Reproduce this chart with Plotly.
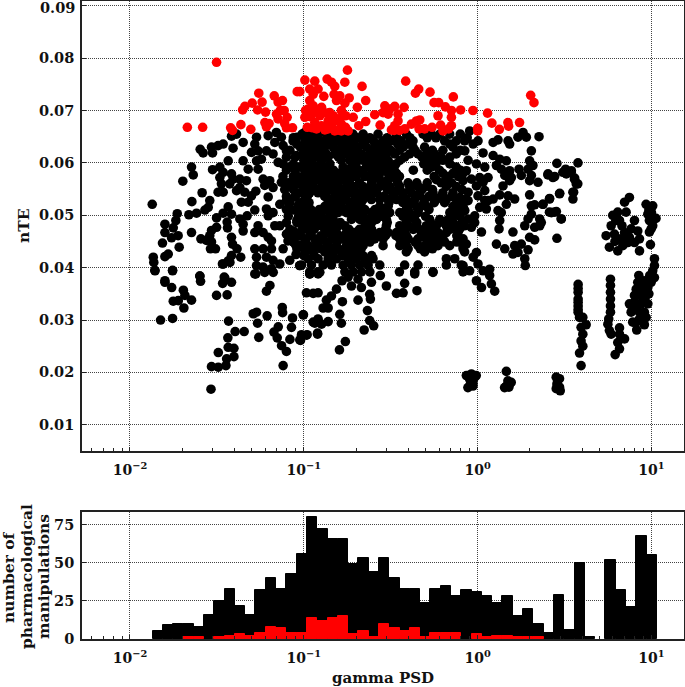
import plotly.graph_objects as go
from plotly.subplots import make_subplots

# ---------- histogram (counts per log-spaced bin) ----------
hist_first_log = -1.87
hist_log_width = 0.0592
hist_black = [5,9,10,10,8,16,25,33,22,16,32,40,33,43,56,80,72,66,66,
              49,53,44,53,40,33,33,24,33,35,28,32,31,28,24,28,15,20,10,4,29,6,50,1,0,52,32,21,68,55]
hist_red = [0,0,0,1,1,0,1,2,3,2,4,8,7,4,4,14,12,14,15,
            3,5,1,10,7,5,7,1,4,4,4,0,3,1,2,2,1,1,1,0,0,0,0,0,0,0,0,0,0,0]

# ---------- scatter: pairs of (log10 gamma PSD, nTE) ----------
red_left = [(-1.502,.0792),(-1.67,.0668),(-1.582,.0668),(-1.421,.0667),(-1.41,.0662),(-1.362,.0673),(-1.305,.0664),
 (-1.352,.0701),(-1.339,.0708),(-1.297,.0714),(-1.259,.0733),(-1.24,.0716),(-1.266,.0701),(-1.22,.0697),(-1.224,.0677),
 (-1.215,.0669),(-1.17,.0728),(-1.148,.0716),(-1.123,.0719),(-1.113,.0700),(-1.157,.0693),(-1.148,.0684),(-1.096,.0687),
 (-1.1,.0667),(-1.065,.0667),(-1.038,.0736),(-1.135,.0700),(-1.2,.0675),(-1.11,.0675)]
red_core = [(-.749,.0777),(-.994,.0758),(-.937,.0756),(-.866,.0760),(-.841,.0754),(-.822,.0746),(-.764,.0754),(-.665,.0746),
 (-1.023,.0736),(-.966,.0741),(-.918,.0741),(-.946,.0731),(-.885,.0727),(-.826,.0731),(-.793,.0728),(-.812,.0719),
 (-.739,.0724),(-.764,.0714),(-.644,.0719),(-.692,.0706),(-.966,.0719),(-.946,.0709),(-.975,.0703),(-.898,.0706),
 (-.851,.0696),(-.784,.0700),(-.994,.0687),(-.946,.0696),(-.908,.0690),(-.937,.0677),(-.898,.0671),(-.831,.0690),
 (-.803,.0684),(-.774,.0690),(-.86,.0680),(-.841,.0671),(-.784,.0674),(-.927,.0665),(-.879,.0663),(-.822,.0661),
 (-.784,.0661),(-.745,.0661),(-.716,.0687),(-.96,.0688),(-.99,.0700),(-.95,.0667),(-.82,.0680),(-.76,.0668),(-.91,.0700),
 (-.98,.0668),(-.87,.0695),(-.76,.0690),(-.8,.0663),(-.86,.0665)]
red_right = [(-.414,.0756),(-.339,.0741),(-.358,.0733),(-.274,.0735),(-.14,.0726),(.305,.0729),(.324,.0715),
 (-.592,.0692),(-.644,.0679),(-.684,.0671),(-.561,.0672),(-.534,.0709),(-.544,.0696),(-.515,.0693),(-.477,.0708),
 (-.423,.0706),(-.458,.0693),(-.458,.0680),(-.477,.0671),(-.496,.0663),(-.419,.0665),(-.381,.0674),(-.352,.0680),
 (-.333,.0682),(-.337,.0665),(-.305,.0665),(-.262,.0668),(-.251,.0715),(-.224,.0715),(-.186,.0707),(-.151,.0700),
 (-.098,.0701),(-.228,.0690),(-.151,.0687),(-.213,.0672),(-.151,.0671),(-.199,.0661),(-.167,.0665),(-.027,.0700),
 (.057,.0695),(.082,.0676),(0.0,.0666),(0.0,.0661),(.125,.0664),(.174,.0677),(.178,.0670),(.241,.0677),(-.505,.0703),
 (-.48,.0662),(-.45,.0662)]

# dense core: (nTE, [log10 gamma PSD, ...]) read row by row
black_core_rows = [
 (.0655,[-1.01,-.965,-.918,-.87,-.822,-.774,-.717,-.659,-.573,-.467,-.41,-.314,-.266,-.218,-.161,-.10]),
 (.0642,[-.994,-.946,-.898,-.86,-.812,-.764,-.716,-.65,-.60,-.544,-.496,-.44,-.372,-.19,-.123,-.075]),
 (.0630,[-1.02,-.975,-.927,-.879,-.831,-.783,-.736,-.688,-.64,-.592,-.544,-.429,-.372,-.305,-.142]),
 (.0617,[-.966,-.918,-.87,-.822,-.764,-.716,-.668,-.621,-.573,-.525,-.477,-.391,-.343,-.295,-.247,-.123]),
 (.0605,[-1.0,-.956,-.898,-.784,-.736,-.659,-.611,-.563,-.515,-.448,-.285,-.238,-.2]),
 (.0592,[-1.02,-.975,-.927,-.879,-.774,-.726,-.64,-.592,-.544,-.496,-.266,-.123]),
 (.0580,[-.994,-.946,-.898,-.85,-.803,-.755,-.707,-.659,-.611,-.563,-.515,-.467,-.2,-.142,-.084]),
 (.0568,[-1.02,-.975,-.927,-.879,-.831,-.783,-.736,-.611,-.563,-.515,-.467,-.238,-.18]),
 (.0555,[-.994,-.946,-.898,-.85,-.803,-.755,-.707,-.659,-.611,-.563,-.506,-.448,-.391,-.343,-.295,-.18,-.123]),
 (.0543,[-1.02,-.966,-.918,-.87,-.822,-.774,-.726,-.678,-.63,-.582,-.477,-.429,-.381,-.333,-.257,-.2,-.142]),
 (.0530,[-.994,-.85,-.803,-.755,-.707,-.659,-.611,-.563,-.515,-.467,-.41,-.362,-.305,-.238,-.18,-.123,-.075]),
 (.0517,[-1.02,-.975,-.879,-.831,-.783,-.736,-.688,-.563,-.515,-.4,-.353,-.295,-.142,-.084]),
 (.0505,[-.994,-.946,-.898,-.85,-.803,-.755,-.707,-.659,-.611,-.563,-.506,-.448,-.391,-.343,-.16,-.10]),
 (.0492,[-1.02,-.975,-.927,-.879,-.831,-.726,-.678,-.63,-.582,-.525,-.41,-.362,-.276,-.218,-.17]),
 (.0480,[-.994,-.946,-.898,-.85,-.803,-.764,-.64,-.525,-.448,-.4,-.353,-.295,-.238,-.18,-.123,-.075]),
 (.0467,[-1.02,-.966,-.86,-.812,-.755,-.707,-.659,-.611,-.563,-.515,-.467,-.42,-.324,-.276,-.228,-.18,-.113]),
 (.0455,[-.994,-.937,-.889,-.831,-.783,-.736,-.688,-.64,-.592,-.544,-.448,-.4,-.343,-.295,-.247,-.2,-.084]),
 (.0442,[-1.02,-.975,-.918,-.86,-.812,-.755,-.707,-.659,-.544,-.448,-.41,-.343,-.305,-.228,-.161,-.084]),
 (.0430,[-.994,-.946,-.879,-.831,-.783,-.736,-.688,-.41,-.305,-.075]),
 (.0417,[-.975,-.918,-.86,-.812,-.745,-.697,-.65,-.602,-.18,-.132]),
 (.0405,[-1.013,-.956,-.889,-.841,-.774,-.726,-.678,-.63,-.563,-.42,-.343,-.18,-.094]),
 (.0392,[-.966,-.918,-.764,-.716,-.668,-.362,-.257,-.084]),
]
black_core_between_rows = [
 (.0648,[-1.06,-.98,-.93,-.84,-.79,-.74,-.69,-.62,-.52,-.47,-.39,-.29,-.24,-.06]),
 (.0636,[-1.04,-.95,-.9,-.85,-.76,-.71,-.66,-.57,-.52,-.46,-.4,-.16]),
 (.0624,[-1.08,-1.0,-.94,-.89,-.8,-.75,-.7,-.61,-.56,-.5,-.45,-.36,-.26,-.2,-.1]),
 (.0611,[-1.1,-1.05,-.99,-.93,-.86,-.8,-.7,-.64,-.58,-.53,-.42,-.32,-.27,-.21,-.16]),
 (.0598,[-1.12,-1.06,-1.0,-.95,-.9,-.85,-.7,-.62,-.57,-.52,-.47,-.31,-.24,-.16]),
 (.0586,[-1.1,-1.05,-.97,-.9,-.83,-.75,-.68,-.6,-.53,-.48,-.37,-.29,-.22,-.1]),
 (.0574,[-1.12,-1.06,-.99,-.92,-.85,-.78,-.7,-.65,-.57,-.5,-.45,-.25,-.17,-.11]),
 (.0562,[-1.09,-1.05,-.96,-.89,-.82,-.75,-.68,-.61,-.54,-.46,-.4,-.35,-.29,-.21,-.15]),
 (.0549,[-1.11,-1.06,-1.0,-.93,-.86,-.79,-.72,-.65,-.58,-.52,-.46,-.39,-.32,-.26,-.09]),
 (.0536,[-1.1,-1.05,-.98,-.88,-.82,-.76,-.69,-.62,-.54,-.49,-.43,-.35,-.28,-.21,-.15]),
 (.0524,[-1.08,-1.02,-.97,-.86,-.8,-.73,-.67,-.51,-.43,-.37,-.31,-.25,-.19,-.1]),
 (.0511,[-1.1,-1.04,-.96,-.91,-.84,-.78,-.71,-.65,-.59,-.54,-.41,-.34,-.28,-.13,-.08]),
 (.0498,[-1.09,-1.03,-.97,-.9,-.84,-.72,-.66,-.6,-.55,-.43,-.37,-.3,-.14]),
 (.0486,[-1.1,-1.04,-.96,-.91,-.85,-.79,-.65,-.61,-.52,-.41,-.35,-.27,-.22,-.14,-.09]),
 (.0473,[-1.08,-1.01,-.94,-.88,-.82,-.74,-.68,-.61,-.53,-.42,-.37,-.31,-.25,-.16]),
 (.0461,[-1.07,-1.02,-.96,-.9,-.84,-.77,-.71,-.65,-.59,-.53,-.47,-.41,-.3,-.23,-.12]),
 (.0449,[-1.06,-.99,-.93,-.87,-.81,-.75,-.68,-.62,-.43,-.36,-.27,-.19,-.12]),
 (.0436,[-1.04,-.96,-.9,-.85,-.8,-.73,-.67,-.4,-.33,-.26]),
 (.0423,[-1.0,-.94,-.84,-.78,-.72,-.66,-.61]),
]

black_left = [(-1.872,.0521),(-1.696,.0565),(-1.646,.0592),(-1.636,.0577),(-1.585,.0543),(-1.644,.0526),(-1.596,.0626),(-1.579,.0619),
 (-1.525,.0619),(-1.531,.0630),(-1.493,.0633),(-1.464,.0636),(-1.416,.0651),(-1.407,.0628),(-1.349,.0604),(-1.320,.0588),
 (-1.263,.0588),(-1.272,.0604),(-1.525,.0587),(-1.483,.0592),(-1.435,.0604),(-1.464,.0582),(-1.416,.0579),(-1.483,.0572),
 (-1.474,.0560),(-1.493,.0544),(-1.464,.0544),(-1.426,.0560),(-1.407,.0569),(-1.368,.0569),(-1.330,.0566),(-1.368,.0553),
 (-1.340,.0544),(-1.387,.0547),(-1.541,.0528),(-1.550,.0515),(-1.569,.0510),(-1.617,.0504),(-1.661,.0501),(-1.435,.0516),
 (-1.464,.0504),(-1.416,.0502),(-1.502,.0495),(-1.441,.0487),(-1.439,.0476),(-1.728,.0503),(-1.736,.0490),(-1.751,.0476),
 (-1.799,.0483),(-1.799,.0467),(-1.723,.0461),(-1.761,.0457),(-1.813,.0447),(-1.717,.0439),(-1.780,.0426),(-1.799,.0421),
 (-1.866,.0420),(-1.863,.0410),(-1.857,.0395),(-1.755,.0395),(-1.646,.0467),(-1.592,.0455),(-1.560,.0452),(-1.531,.0471),
 (-1.502,.0477),(-1.541,.0461),(-1.531,.0449),(-1.537,.0436),(-1.508,.0436),(-1.598,.0384),(-1.799,.0375),(-1.458,.0382),
 (-1.416,.0458),(-1.410,.0445),(-1.384,.0436),(-1.416,.0423),(-1.435,.0413),(-1.468,.0407),(-1.363,.0420),(-1.368,.0493),
 (-1.326,.0499),(-1.349,.0483),(-1.349,.0470),(-1.263,.0480),(-1.282,.0467),(-1.234,.0467),(-1.205,.0458),(-1.186,.0451),
 (-1.359,.0525),(-1.320,.0525),(-1.301,.0537),(-1.276,.0546),(-1.282,.0510),(-1.205,.0535),(-1.215,.0512),(-1.205,.0499),
 (-1.177,.0505),(-1.138,.0521),(-1.100,.0528),(-1.167,.0480),(-1.138,.0480),(-1.100,.0464),(-1.091,.0451),(-1.119,.0436),
 (-1.234,.0569),(-1.196,.0566),(-1.225,.0557),(-1.177,.0553),(-1.129,.0563),(-1.100,.0592),(-1.282,.0436),(-1.234,.0436),
 (-1.186,.0436),(-1.272,.0420),(-1.215,.0420),(-1.177,.0414),(-1.272,.0404),(-1.234,.0401),(-1.186,.0398),(-1.282,.0388),
 (-1.225,.0391),(-1.138,.0407),(-1.081,.0414),(-1.024,.0404),(-1.387,.0655),(-1.349,.0639),(-1.282,.0636),(-1.272,.0649),
 (-1.301,.0620),(-1.263,.0623),(-1.215,.0623),(-1.244,.0607),(-1.205,.0652),(-1.158,.0658),(-1.167,.0639),(-1.129,.0649),
 (-1.119,.0633),(-1.177,.0617),(-1.148,.0601),(-1.100,.0623),(-1.062,.0642),(-1.04,.0649),(-.995,.0658),(-1.043,.0614),
 (-1.004,.0617),(-1.06,.0595),(-1.04,.0575),(-1.07,.0555),(-1.05,.0535),(-1.06,.0510),(-1.04,.0490),(-1.06,.0470),(-1.05,.0445),
 (-1.03,.0560),(-1.03,.0520),(-1.03,.0460),(-1.045,.0425)]
black_low_left = [(-1.856,.0394),(-1.755,.0394),(-1.799,.0372),(-1.76,.0362),(-1.693,.0357),(-1.598,.0384),(-1.594,.0374),(-1.684,.0347),
 (-1.751,.0336),(-1.722,.0337),(-1.646,.0338),(-1.69,.0323),(-1.502,.0347),(-1.441,.0348),(-1.467,.0370),(-1.454,.0380),
 (-1.416,.0372),(-1.464,.0407),(-1.425,.0410),(-1.195,.0366),(-1.215,.0355),(-1.276,.0388),(-1.176,.0391),(-1.023,.0404),
 (-.965,.0388),(-.908,.0391),(-1.824,.0300),(-1.755,.0303),(-1.433,.0298),(-1.272,.0315),(-1.291,.0312),(-1.211,.0308),
 (-1.266,.0294),(-1.124,.0324),(-1.122,.0314),(-1.065,.0304),(-1.002,.0310),(-1.071,.0286),(-1.147,.0287),(-1.172,.0277),
 (-1.153,.0266),(-1.08,.0263),(-1.128,.0251),(-1.1,.0240),(-1.119,.0213),(-1.259,.0267),(-1.343,.0278),(-1.395,.0278),
 (-1.437,.0266),(-1.435,.0248),(-1.402,.0246),(-1.492,.0238),(-1.402,.0230),(-1.444,.0226),(-1.448,.0213),(-1.492,.0210),
 (-1.531,.0211),(-1.534,.0168),(-1.019,.0261),(-1.013,.0272),(-.981,.0272),(-.946,.0296),(-.918,.0299),(-.921,.0273)]
black_low_mid = [(-.966,.0388),(-.918,.0388),(-.745,.0382),(-.688,.0378),(-.726,.0365),(-.669,.0362),(-.611,.0372),(-.525,.0365),
 (-.42,.0370),(-.467,.0351),(-.429,.0352),(-.349,.0356),(-.362,.0388),(-.257,.0391),(-.985,.0352),(-.946,.0351),(-.918,.0352),
 (-.812,.0359),(-.841,.0346),(-.87,.0338),(-.778,.0335),(-.688,.0338),(-.621,.0349),(-.617,.0340),(-.889,.0323),(-.86,.0323),
 (-.793,.0311),(-.634,.0318),(-1.004,.0310),(-.918,.0302),(-.937,.0294),(-.898,.0292),(-.86,.0297),(-.784,.0294),(-.621,.0299),
 (-.598,.0289),(-.653,.0281),(-.921,.0275),(-.985,.0271),(-1.013,.0270),(-1.023,.0262),(-.761,.0259),(-.795,.0243),
 (-.78,.0375),(-.62,.0392),(-.56,.0385),(-.45,.0392)]
black_clumps_low = [(-.065,.0194),(-.036,.0197),(-.017,.0191),(-.046,.0187),(-.027,.0180),(-.056,.0171),(-.027,.0174),(-.042,.0177),
 (-.008,.0194),(.165,.0202),(.174,.0184),(.165,.0174),(.184,.0178),(.155,.0171),(.18,.0172),(.193,.0181),
 (.452,.0191),(.471,.0188),(.456,.0178),(.471,.0172),(.452,.0169),(.475,.0165),(.46,.0184)]
black_mid_right = [(-.046,.0661),(.002,.0642),(-.026,.0636),(-.074,.0623),(.031,.0619),(.089,.0639),(.117,.0644),(.184,.0636),(.175,.0642),
 (.232,.0649),(.261,.0658),(.28,.0649),(.353,.0650),(.309,.0623),(.089,.0614),(.127,.0607),(.165,.0604),(.108,.0595),(.136,.0588),
 (.184,.0585),(.156,.0576),(.194,.0572),(.146,.0556),(.184,.0566),(.238,.0588),(.251,.0576),(.299,.0604),(.318,.0595),(.29,.0588),
 (.309,.0576),(.299,.0566),(.347,.0563),(.299,.0539),(.472,.0542),(.405,.0579),(.443,.0574),(.456,.0599),(.506,.0588),(.539,.0585),
 (.51,.0579),(.577,.0600),(.558,.0571),(.567,.0560),(.552,.0544),(.548,.0531),(.414,.0532),(.376,.0521),(.328,.0520),(.309,.0518),
 (.424,.0505),(.453,.0507),(.481,.0493),(.309,.0502),(.29,.0493),(.271,.0480),(.357,.0493),(.357,.0480),(.328,.0477),(.299,.0458),
 (.328,.0453),(.456,.0456),(.127,.0539),(.175,.0537),(.213,.0531),(.165,.0521),(.089,.0531),(.06,.0528),(.117,.0509),(.136,.0505),
 (.127,.0490),(.123,.0474),(.203,.0468),(.022,.0468),(.108,.0445),(.156,.0436),(.213,.0442),(.251,.0445),(.29,.0434),(.203,.0426),
 (.232,.0429),(.271,.0417),(.274,.0404),(-.007,.0429),(-.026,.0420),(.002,.0407),(-.084,.0404),(-.046,.0394),(.069,.0397),(.031,.0394),
 (.069,.0385),(-.007,.0375),(.022,.0362),(.079,.0369),(.098,.0355),(-.065,.0445),(-.084,.0436),(-.055,.0605),(-.007,.0598),(.041,.0592),
 (-.065,.0585),(-.103,.0579),(-.036,.0569),(.012,.0572),(.06,.0572),(-.084,.0566),(.031,.0563),(-.007,.0556),(.041,.0547),(-.055,.0544),
 (-.103,.0534),(-.055,.0528),(.002,.0537),(.041,.0528),(.012,.0515),(.05,.0512),(-.074,.0509),(-.103,.0499),(-.055,.0493),(-.017,.0499),
 (-.084,.0483),(-.036,.0477),(-.017,.0486),(-.103,.0474),(.404,.0577),(.433,.0572),(.49,.0582),(.538,.0582),(.557,.0569),(.576,.0560),
 (.548,.0544),(.471,.0541),(.413,.0531),(.375,.0521),(.413,.0506),(.442,.0506),(.481,.0493),(.366,.0486)]
black_cluster_a = [(.873,.0534),(.845,.0525),(.806,.0506),(.777,.05),(.854,.0506),(.816,.049),(.902,.049),(.768,.0480),(.883,.0474),
 (.921,.0470),(.739,.0461),(.787,.0464),(.845,.0467),(.825,.0455),(.873,.0458),(.931,.0455),(.902,.0448),(.758,.0439),(.806,.0432),
 (.835,.0442),(.931,.0432),(.864,.0448),(.795,.0490),(.83,.0480),(.79,.0450)]
black_cluster_b = [(.969,.0521),(1.007,.0518),(.979,.0502),(1.026,.0494),(.988,.0490),(1.007,.0480),(.988,.0468),(.998,.0474),(.994,.0444),
 (.985,.0510),(1.0,.0505)]
black_cluster_c = [(1.017,.0417),(1.017,.0404),(1.007,.0394),(1.017,.0381),(.998,.0372),(.979,.0362),(.927,.0385),(.921,.0372),(.969,.0375),
 (.95,.0359),(.912,.0359),(.969,.0347),(.931,.0347),(.902,.0347),(.979,.0331),(.873,.0331),(.902,.0334),(.94,.0331),(.883,.0315),
 (.921,.0318),(.959,.0315),(.969,.0305),(.892,.0296),(.931,.0302),(.959,.0291),(.915,.0281),(.95,.0375),(.93,.0365),(.96,.0340),(.89,.0322),
 (.94,.0310),(.91,.0295),(.99,.0385),(.985,.0350)]
black_cluster_d = [(.764,.0378),(.764,.0366),(.764,.0353),(.764,.034),(.764,.0327),(.764,.0315),(.754,.0302),(.749,.0292),(.758,.028),
 (.768,.0273),(.816,.0285),(.816,.0273),(.845,.0264),(.806,.0257),(.816,.0245),(.791,.0234)]
black_cluster_e = [(.578,.0368),(.578,.0353),(.578,.034),(.578,.0327),(.578,.0315),(.586,.0305),(.605,.0305),(.624,.0291),(.595,.0286),
 (.605,.0273),(.595,.026),(.605,.025),(.586,.0237),(.595,.0213),(.578,.0360),(.578,.0334),(.578,.0320)]

black_groups = [black_left, black_low_left, black_low_mid, black_clumps_low, black_mid_right,
                black_cluster_a, black_cluster_b, black_cluster_c, black_cluster_d, black_cluster_e]
red_groups = [red_left, red_core, red_right]

black_log, black_nte = [], []
for nte, logs in black_core_rows + black_core_between_rows:
    black_log += logs
    black_nte += [nte] * len(logs)
for g in black_groups:
    black_log += [p[0] for p in g]
    black_nte += [p[1] for p in g]
red_log, red_nte = [], []
for g in red_groups:
    red_log += [p[0] for p in g]
    red_nte += [p[1] for p in g]

x_ticks = [0.01, 0.1, 1, 10]
x_labels = ["10<sup>−2</sup>", "10<sup>−1</sup>", "10<sup>0</sup>", "10<sup>1</sup>"]
y_ticks = [0.01, 0.02, 0.03, 0.04, 0.05, 0.06, 0.07, 0.08, 0.09]
y_labels = ["0.01", "0.02", "0.03", "0.04", "0.05", "0.06", "0.07", "0.08", "0.09"]
count_ticks = [0, 25, 50, 75]
count_title_lines = ["number of", "pharmacological", "manipulations"]

W, H = 685, 687
FONT = "DejaVu Serif"
INK = "#111111"
fig = make_subplots(rows=2, cols=1)

fig.add_trace(go.Scatter(x=[10**v for v in black_log], y=black_nte, mode="markers",
                         marker=dict(color="black", size=9.6), showlegend=False), row=1, col=1)
fig.add_trace(go.Scatter(x=[10**v for v in red_log], y=red_nte, mode="markers",
                         marker=dict(color="#ff0000", size=9.6), showlegend=False), row=1, col=1)

lows = [10 ** (hist_first_log + i * hist_log_width) for i in range(len(hist_black))]
highs = [10 ** (hist_first_log + (i + 1) * hist_log_width) for i in range(len(hist_black))]
mids = [(a + b) / 2 for a, b in zip(lows, highs)]
widths = [b - a for a, b in zip(lows, highs)]


def nonzero_bins(values):
    """Leave out the empty bins: a zero-height bar would still draw its outline."""
    keep = [i for i, v in enumerate(values) if v > 0]
    return [mids[i] for i in keep], [values[i] for i in keep], [widths[i] for i in keep]


bx, by, bw = nonzero_bins(hist_black)
rx, ry, rw = nonzero_bins(hist_red)
fig.add_trace(go.Bar(x=bx, y=by, width=bw, marker=dict(color="black", line=dict(color="black", width=1)),
                     showlegend=False), row=2, col=1)
fig.add_trace(go.Bar(x=rx, y=ry, width=rw, marker=dict(color="#ff0000", line=dict(color="#ff0000", width=1)),
                     showlegend=False), row=2, col=1)

axis_common = dict(showline=True, linecolor="#222222", linewidth=1.6, mirror=True, automargin=False,
                   showgrid=True, gridcolor="#444444", griddash="1px,1px", gridwidth=1, zeroline=False,
                   ticks="inside", ticklen=4, tickcolor="#222222")
xlog = dict(type="log", range=[-2.276, 1.187], tickmode="array", tickvals=x_ticks, ticktext=x_labels,
            ticklabelstandoff=5, tickfont=dict(family=FONT, size=14, color=INK, weight="bold"),
            minor=dict(ticks="inside", ticklen=3, tickcolor="#222222", dtick="D1", showgrid=False))

fig.update_xaxes(**axis_common, **xlog)
fig.update_xaxes(domain=[82/W, 684/W], row=1, col=1)
fig.update_xaxes(domain=[82/W, 684/W], row=2, col=1,
                 title=dict(text="gamma PSD", standoff=9, font=dict(family=FONT, size=15, color=INK, weight="bold")))
fig.update_yaxes(**axis_common, tickfont=dict(family=FONT, size=14.5, color=INK, weight="bold"), ticklabelstandoff=3)
fig.update_yaxes(domain=[1-451/H, 1-0.5/H], range=[0.005, 0.091], tickmode="array", tickvals=y_ticks, ticktext=y_labels,
                 title=dict(text="nTE", standoff=6, font=dict(family=FONT, size=15.5, color=INK, weight="bold")),
                 row=1, col=1)
fig.update_yaxes(domain=[1-639/H, 1-512/H], range=[0, 83.5], tickmode="array", tickvals=count_ticks, row=2, col=1)

for line, xpx in zip(count_title_lines, [8, 26, 43]):
    fig.add_annotation(text=line, xref="paper", yref="paper", x=xpx/W, y=1-577/H, textangle=-90, showarrow=False,
                       xanchor="center", yanchor="middle",
                       font=dict(family=FONT, size=15.5, color=INK, weight="bold"))

# the topmost tick label sits too close to the edge for the axis to keep it
fig.add_annotation(text=y_labels[-1], xref="paper", yref="y", x=75/W, y=y_ticks[-1], showarrow=False,
                   xanchor="right", yanchor="middle", yshift=-2, borderpad=0, borderwidth=0,
                   font=dict(family=FONT, size=14.5, color=INK, weight="bold"))

fig.update_layout(width=W, height=H, autosize=False, margin=dict(l=0, r=0, t=0, b=0, autoexpand=False),
                  paper_bgcolor="white", plot_bgcolor="white", barmode="overlay", bargap=0,
                  font=dict(family=FONT))

fig.write_html("out.html", config={"displayModeBar": False}, post_script="document.body.style.margin='0';")
